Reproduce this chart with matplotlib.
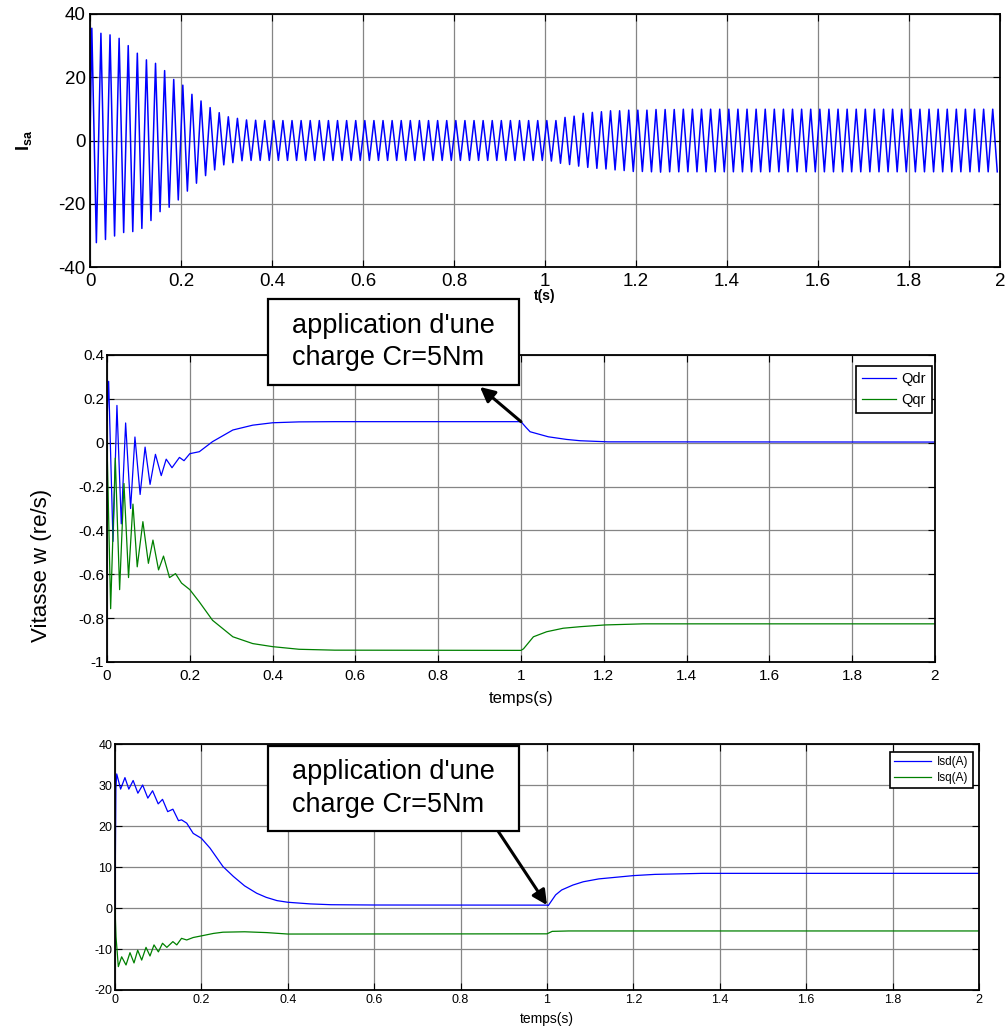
import numpy as np
import matplotlib
matplotlib.use("Agg")
import matplotlib.pyplot as plt
from matplotlib import font_manager
from matplotlib.patches import Rectangle

# ---------------- data ----------------
# Stator current Isa: successive peak / trough values (50 Hz)
isa_period = 0.02
isa_first_peak = 0.004
isa_first_trough = 0.014
isa_peaks = [35.5, 33.9, 33.4, 32.3, 30.0, 27.6, 25.5, 24.4, 22.1, 19.3,
             17.5, 14.6, 12.5, 10.4, 8.8, 7.5, 7.0, 6.5, 6.4, 6.3,
             6.3, 6.3, 6.3, 6.3, 6.3, 6.3, 6.3, 6.3, 6.3, 6.3,
             6.3, 6.3, 6.3, 6.3, 6.3, 6.3, 6.3, 6.3, 6.3, 6.3,
             6.3, 6.3, 6.3, 6.3, 6.3, 6.3, 6.3, 6.3, 6.3, 6.3,
             6.3, 6.3, 7.3, 7.7, 8.6, 8.9, 9.1, 9.4, 9.4, 9.6,
             9.6, 9.6, 9.8, 9.8, 9.8, 9.9, 9.9, 9.9, 9.9, 9.9,
             9.9, 9.9, 9.9, 9.9, 9.9, 9.9, 9.9, 9.9, 9.9, 9.9,
             9.9, 9.9, 9.9, 9.9, 9.9, 9.9, 9.9, 9.9, 9.9, 9.9,
             9.9, 9.9, 9.9, 9.9, 9.9, 9.9, 9.9, 9.9, 9.9, 9.9]
isa_troughs = [-32.3, -31.3, -30.2, -29.1, -28.8, -27.8, -25.3, -22.5, -21.1, -18.8,
               -16.0, -13.5, -11.1, -9.3, -7.7, -7.0, -6.4, -6.3, -6.3, -6.3,
               -6.3, -6.3, -6.3, -6.3, -6.3, -6.3, -6.3, -6.3, -6.3, -6.3,
               -6.3, -6.3, -6.3, -6.3, -6.3, -6.3, -6.3, -6.3, -6.3, -6.3,
               -6.3, -6.3, -6.3, -6.3, -6.3, -6.3, -6.3, -6.3, -6.3, -6.3,
               -6.5, -7.2, -7.6, -8.1, -8.5, -8.8, -9.0, -9.3, -9.5, -9.8,
               -9.8, -9.9, -10.0, -9.9, -9.9, -9.9, -9.9, -9.9, -9.9, -9.9,
               -9.9, -9.9, -9.9, -9.9, -9.9, -9.9, -9.9, -9.9, -9.9, -9.9,
               -9.9, -9.9, -9.9, -9.9, -9.9, -9.9, -9.9, -9.9, -9.9, -9.9,
               -9.9, -9.9, -9.9, -9.9, -9.9, -9.9, -9.9, -9.9, -9.9, -9.9]

# Rotor fluxes
qdr_t = [0, .004, .0145, .024, .0345, .045, .057, .0675, .080, .092,
         .104, .117, .131, .143, .157, .175, .186, .2, .223, .255,
         .304, .352, .4, .464, .55, 1.0, 1.012, 1.022, 1.066, 1.110,
         1.143, 1.21, 2.0]
qdr_v = [0.10, 0.28, -0.45, 0.17, -0.37, 0.09, -0.30, 0.026, -0.236, -0.02,
         -0.19, -0.053, -0.15, -0.075, -0.114, -0.067, -0.082, -0.05, -0.041, 0.005,
         0.058, 0.080, 0.091, 0.095, 0.096, 0.096, 0.07, 0.05, 0.027, 0.015,
         0.009, 0.004, 0.003]
qqr_t = [0, .0088, .020, .0305, .041, .052, .0627, .073, .0867, .100,
         .111, .1245, .1365, .151, .1655, .180, .2, .223, .255, .304,
         .352, .4, .464, .55, 1.0, 1.006, 1.03, 1.062, 1.102, 1.143,
         1.203, 1.295, 2.0]
qqr_v = [0.0, -0.757, -0.07, -0.67, -0.186, -0.615, -0.28, -0.566, -0.36, -0.55,
         -0.444, -0.58, -0.517, -0.615, -0.597, -0.64, -0.67, -0.726, -0.81, -0.885,
         -0.916, -0.93, -0.942, -0.946, -0.947, -0.94, -0.885, -0.862, -0.846, -0.839,
         -0.831, -0.826, -0.826]

# Stator currents d/q
isd_t = [0, .002, .004, .013, .023, .032, .042, .053, .064, .076,
         .087, .100, .110, .122, .134, .147, .154, .166, .181, .2,
         .22, .25, .274, .3, .328, .35, .375, .4, .452, .5,
         .6, 1.0, 1.003, 1.02, 1.034, 1.06, 1.084, 1.12, 1.2, 1.25,
         1.36, 2.0]
isd_v = [0, 29.0, 32.7, 29.0, 31.8, 29.0, 31.1, 28.0, 30.0, 26.8,
         28.6, 25.4, 26.5, 23.5, 24.1, 21.3, 21.5, 20.7, 18.2, 17.0,
         14.6, 10.1, 7.7, 5.4, 3.6, 2.6, 1.8, 1.4, 1.0, 0.8,
         0.73, 0.7, 0.6, 3.2, 4.4, 5.6, 6.4, 7.1, 7.9, 8.2,
         8.45, 8.45]
isq_t = [0, .0023, .0077, .0154, .0255, .0347, .044, .0525, .0618, .0718,
         .081, .0903, .1004, .110, .120, .134, .143, .154, .166, .181,
         .2, .228, .25, .3, .351, .4, 1.0, 1.012, 1.05, 2.0]
isq_v = [0, -7.0, -14.3, -11.9, -13.9, -10.9, -13.4, -10.3, -12.7, -9.6,
         -11.7, -9.0, -10.7, -8.6, -9.6, -8.2, -9.0, -7.4, -7.8, -7.2,
         -6.8, -6.2, -5.9, -5.8, -6.0, -6.35, -6.3, -5.7, -5.6, -5.6]

x_ticks = [0, 0.2, 0.4, 0.6, 0.8, 1.0, 1.2, 1.4, 1.6, 1.8, 2.0]
x_ticklabels = ["0", "0.2", "0.4", "0.6", "0.8", "1", "1.2", "1.4", "1.6", "1.8", "2"]
top_yticks = [-40, -20, 0, 20, 40]
mid_yticks = [-1, -0.8, -0.6, -0.4, -0.2, 0, 0.2, 0.4]
mid_yticklabels = ["-1", "-0.8", "-0.6", "-0.4", "-0.2", "0", "0.2", "0.4"]
bot_yticks = [-20, -10, 0, 10, 20, 30, 40]

annot_text = "application d'une\ncharge Cr=5Nm"
load_time = 1.0

# ---------------- style ----------------
names = {f.name for f in font_manager.fontManager.ttflist}
NARROW = "Liberation Sans Narrow" if "Liberation Sans Narrow" in names else "Liberation Sans"
plt.rcParams["font.family"] = ["Liberation Sans", "DejaVu Sans"]
plt.rcParams["axes.unicode_minus"] = False
plt.rcParams["mathtext.fontset"] = "custom"
plt.rcParams["mathtext.bf"] = "Liberation Sans:bold"
plt.rcParams["mathtext.rm"] = "Liberation Sans"

W, H = 1008, 1029
fig = plt.figure(figsize=(W / 100, H / 100), dpi=100)


def px_axes(l, t, r, b):
    return [l / W, 1 - b / H, (r - l) / W, (b - t) / H]


BLUE = "#0000ff"
GREEN = "#008000"
GRID = "#858585"


def style(ax, fs, family, pad_x, pad_y):
    ax.grid(True, color=GRID, linewidth=0.9, linestyle="-")
    ax.set_axisbelow(True)
    ax.tick_params(direction="in", top=True, right=True, length=5, width=0.8,
                   color="black")
    ax.tick_params(axis="x", pad=pad_x)
    ax.tick_params(axis="y", pad=pad_y)
    for lab in ax.get_xticklabels() + ax.get_yticklabels():
        lab.set_fontsize(fs)
        lab.set_family(family)
    for s in ax.spines.values():
        s.set_linewidth(1.3)
        s.set_color("black")


# ---- top: Isa ----
ax1 = fig.add_axes(px_axes(90, 14, 1000, 267))
t_isa = [0.0]
v_isa = [0.0]
for k in range(len(isa_peaks)):
    t_isa.append(isa_first_peak + k * isa_period)
    v_isa.append(isa_peaks[k])
    t_isa.append(isa_first_trough + k * isa_period)
    v_isa.append(isa_troughs[k])
ax1.plot(t_isa, v_isa, color=BLUE, linewidth=1.1)
ax1.set_xlim(0, 2)
ax1.set_ylim(-40, 40)
ax1.set_xticks(x_ticks)
ax1.set_xticklabels(x_ticklabels)
ax1.set_yticks(top_yticks)
ax1.set_yticklabels([str(v) for v in top_yticks])
style(ax1, 13.5, "Liberation Sans", 4, 3)
ax1.set_xlabel("t(s)", fontsize=10, fontweight="bold")
ax1.xaxis.set_label_coords(0.5, -0.088)
ax1.set_ylabel(r"$\mathbf{I_{sa}}$", fontsize=13)
ax1.yaxis.set_label_coords(-0.062, 0.5)

# ---- middle: Qdr / Qqr ----
ax2 = fig.add_axes(px_axes(107, 355, 935, 662))
ax2.plot(qdr_t, qdr_v, color=BLUE, linewidth=0.9, label="Qdr")
ax2.plot(qqr_t, qqr_v, color=GREEN, linewidth=0.9, label="Qqr")
ax2.set_xlim(0, 2)
ax2.set_ylim(-1, 0.4)
ax2.set_xticks(x_ticks)
ax2.set_xticklabels(x_ticklabels)
ax2.set_yticks(mid_yticks)
ax2.set_yticklabels(mid_yticklabels)
style(ax2, 11, NARROW, 5, 2)
ax2.set_xlabel("temps(s)", fontsize=12, family=NARROW, labelpad=6)
leg2 = ax2.legend(loc="upper right", bbox_to_anchor=(0.9964, 0.9642),
                  borderaxespad=0, fancybox=False, framealpha=1,
                  edgecolor="black", prop={"family": NARROW, "size": 10.5},
                  handlelength=2.3, handletextpad=0.4, borderpad=0.4,
                  labelspacing=0.5)
leg2.get_frame().set_linewidth(1.2)
fig.text(42 / W, 1 - 565 / H, "Vitasse w (re/s)", rotation=90,
         ha="center", va="center", fontsize=16)

# ---- bottom: Isd / Isq ----
ax3 = fig.add_axes(px_axes(115, 744, 979, 990))
ax3.plot(isd_t, isd_v, color=BLUE, linewidth=0.9, label="Isd(A)")
ax3.plot(isq_t, isq_v, color=GREEN, linewidth=0.9, label="Isq(A)")
ax3.set_xlim(0, 2)
ax3.set_ylim(-20, 40)
ax3.set_xticks(x_ticks)
ax3.set_xticklabels(x_ticklabels)
ax3.set_yticks(bot_yticks)
ax3.set_yticklabels([str(v) for v in bot_yticks])
style(ax3, 9, "Liberation Sans", 3, 2)
ax3.set_xlabel("temps(s)", fontsize=10, labelpad=4)
leg3 = ax3.legend(loc="upper right", bbox_to_anchor=(0.993, 0.9675),
                  borderaxespad=0, fancybox=False, framealpha=1,
                  edgecolor="black", prop={"size": 8.5},
                  handlelength=3.2, handletextpad=0.5, borderpad=0.35,
                  labelspacing=0.35)
leg3.get_frame().set_linewidth(1.2)


# ---- annotation boxes ----
def note_box(l, t, r, b):
    fig.patches.append(Rectangle((l / W, 1 - b / H), (r - l) / W, (b - t) / H,
                                 transform=fig.transFigure, facecolor="white",
                                 edgecolor="black", linewidth=1.6, zorder=5))
    fig.text((l + r) / 2 / W, 1 - (t + b) / 2 / H, annot_text, ha="center",
             va="center", fontsize=19.5, linespacing=1.32, zorder=6,
             multialignment="left")


note_box(268, 299, 519, 385)
note_box(268, 746, 519, 831)

arrow_kw = dict(arrowstyle="-|>", color="black", lw=2.2, mutation_scale=22,
                shrinkA=0, shrinkB=0)
# middle: from the curve at load time to the box
ax2.annotate("", xy=(480, H - 387), xycoords="figure pixels",
             xytext=(load_time, qdr_v[25]), textcoords="data",
             arrowprops=arrow_kw, annotation_clip=False, zorder=7)
# bottom: from the box to the curve at load time
ax3.annotate("", xy=(load_time, isd_v[31]), xycoords="data",
             xytext=(498, H - 831), textcoords="figure pixels",
             arrowprops=arrow_kw, annotation_clip=False, zorder=7)

fig.savefig("out.png", dpi=100)
